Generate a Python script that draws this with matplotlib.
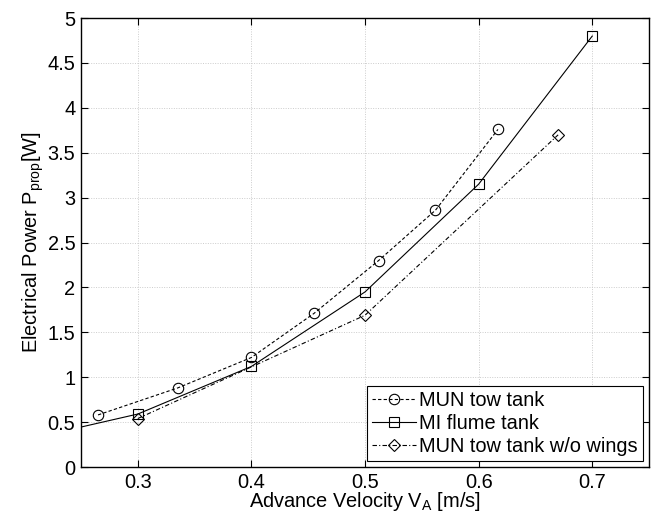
import numpy as np
import matplotlib
matplotlib.use('Agg')
import matplotlib.pyplot as plt

plt.rcParams['font.family'] = ['Liberation Sans', 'DejaVu Sans']
plt.rcParams['mathtext.fontset'] = 'custom'
plt.rcParams['mathtext.rm'] = 'Liberation Sans'

# MUN tow tank
mun_v = [0.265, 0.335, 0.40, 0.455, 0.512, 0.562, 0.617]
mun_p = [0.58, 0.88, 1.22, 1.71, 2.30, 2.86, 3.76]
# MI flume tank (first point only sets the line start at the axis edge)
mi_v = [0.25, 0.30, 0.40, 0.50, 0.60, 0.70]
mi_p = [0.445, 0.59, 1.12, 1.95, 3.15, 4.80]
# MUN tow tank without wings
nw_v = [0.30, 0.50, 0.67]
nw_p = [0.54, 1.69, 3.70]

fs = 14.4

fig = plt.figure(figsize=(6.51, 5.17), dpi=100)
ax = fig.add_axes([0.1244, 0.0967, 0.8726, 0.8683])

ax.plot(mun_v, mun_p, color='k', ls=(0, (3, 2)), lw=0.8, marker='o', ms=7.5,
        mfc='none', mew=0.8, label='MUN tow tank')
ax.plot(mi_v, mi_p, color='k', ls='-', lw=0.8, marker='s', ms=6.5,
        mfc='none', mew=0.8, markevery=list(range(1, len(mi_v))), label='MI flume tank')
ax.plot(nw_v, nw_p, color='k', ls=(0, (4, 2, 1, 2)), lw=0.8, marker='D', ms=6,
        mfc='none', mew=0.8, label='MUN tow tank w/o wings')

ax.set_xlim(0.25, 0.75)
ax.set_ylim(0, 5)
ax.set_xticks([0.3, 0.4, 0.5, 0.6, 0.7])
ax.set_xticklabels(['0.3', '0.4', '0.5', '0.6', '0.7'])
ax.set_yticks(np.arange(0, 5.01, 0.5))
ax.set_yticklabels(['0', '0.5', '1', '1.5', '2', '2.5', '3', '3.5', '4', '4.5', '5'])
ax.tick_params(direction='in', top=True, right=True, labelsize=fs, length=5, width=0.8, pad=4)
ax.grid(True, color='#cccccc', ls=(0, (1, 1.5)), lw=0.7)
for s in ax.spines.values():
    s.set_linewidth(1.0)

ax.set_xlabel(r'Advance Velocity V$_\mathregular{A}$ [m/s]', fontsize=fs, labelpad=-1)
ax.set_ylabel(r'Electrical Power P$_\mathregular{prop}$[W]', fontsize=fs, labelpad=1)

leg = ax.legend(loc='lower right', fontsize=fs, fancybox=False, framealpha=1,
                edgecolor='k', handlelength=2.2, handletextpad=0.15,
                borderpad=0.25, labelspacing=0.2, borderaxespad=0.3)
leg.get_frame().set_linewidth(0.8)

fig.savefig('out.png', dpi=100)
